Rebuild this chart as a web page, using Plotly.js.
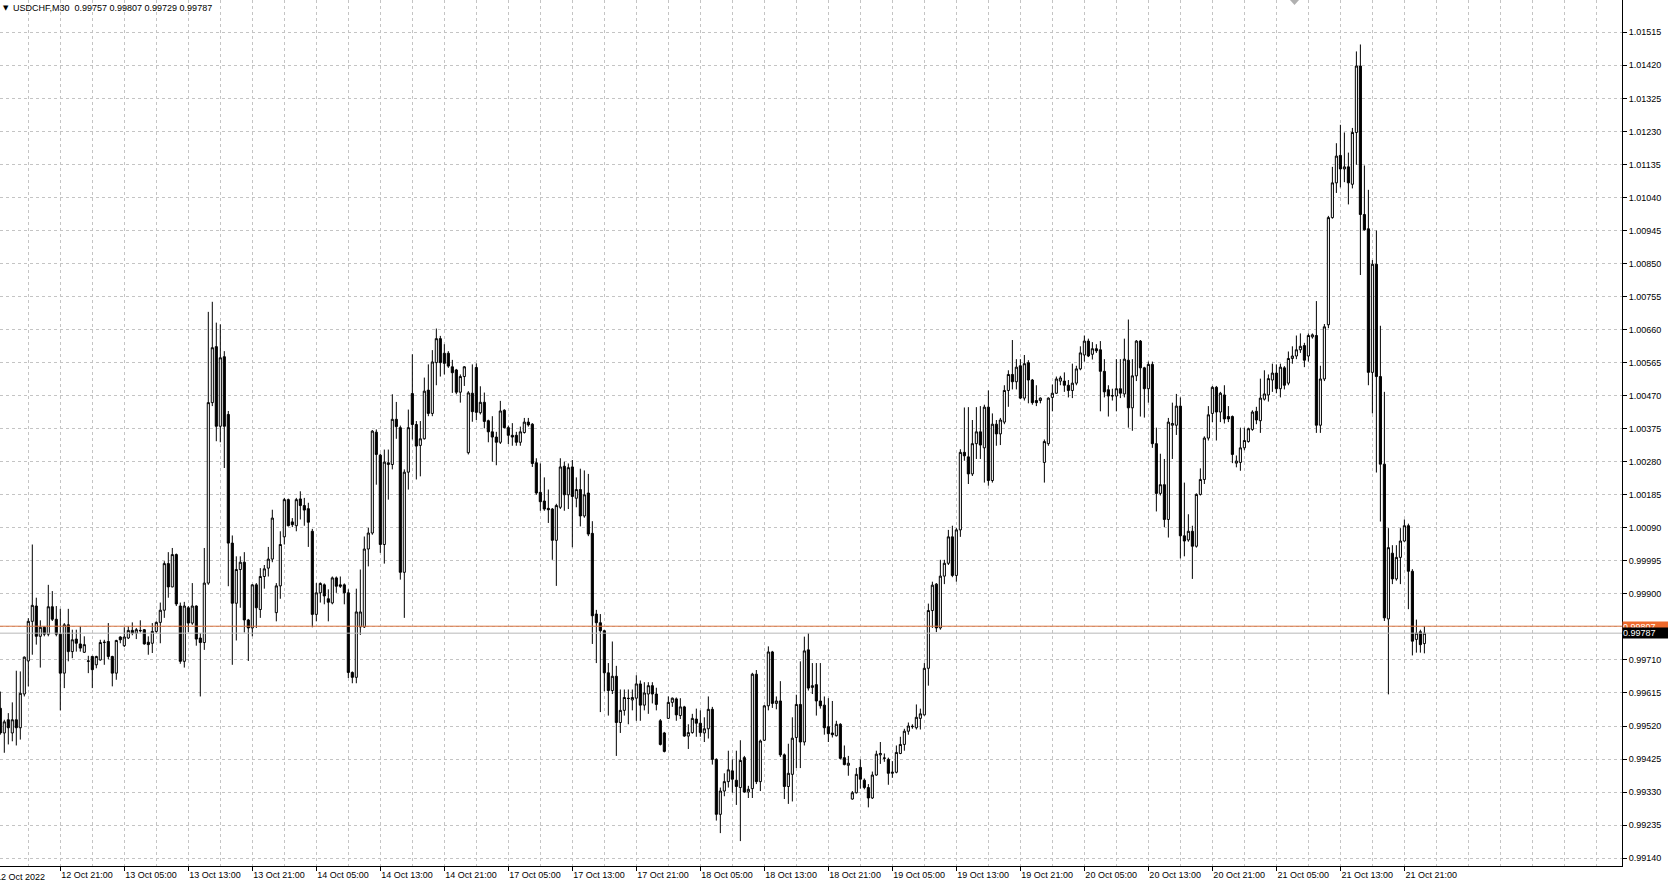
<!DOCTYPE html>
<html>
<head>
<meta charset="utf-8">
<script src="https://cdn.plot.ly/plotly-3.0.1.min.js"></script>
<style>
  html, body { margin: 0; padding: 0; background: #ffffff; overflow: hidden; }
  #chart { width: 1668px; height: 886px; }
</style>
</head>
<body>
<div id="chart"></div>
<script>
// ---------------- data ----------------
const symbol = "USDCHF";
const timeframe = "M30";
const askPrice = 0.99807;
const bidPrice = 0.99787;
const firstBar = -15;          // bar index of the first visible candle (0 = 12 Oct 21:00)
const barsPerLabel = 16;       // 8 hours of M30 bars between time labels

const timeLabels = ["12 Oct 2022","12 Oct 21:00","13 Oct 05:00","13 Oct 13:00","13 Oct 21:00","14 Oct 05:00","14 Oct 13:00","14 Oct 21:00","17 Oct 05:00","17 Oct 13:00","17 Oct 21:00","18 Oct 05:00","18 Oct 13:00","18 Oct 21:00","19 Oct 05:00","19 Oct 13:00","19 Oct 21:00","20 Oct 05:00","20 Oct 13:00","20 Oct 21:00","21 Oct 05:00","21 Oct 13:00","21 Oct 21:00"];

const priceTicks = ["0.99140","0.99235","0.99330","0.99425","0.99520","0.99615","0.99710","0.99805","0.99900","0.99995","1.00090","1.00185","1.00280","1.00375","1.00470","1.00565","1.00660","1.00755","1.00850","1.00945","1.01040","1.01135","1.01230","1.01325","1.01420","1.01515"];

const open = [
0.99571,0.99500,0.99538,0.99500,0.99538,0.99515,0.99612,0.99707,0.99821,0.99865,0.99778,0.99804,0.99784,0.99863,0.99827,
0.99784,0.99672,0.99811,0.99734,0.99770,0.99756,0.99732,0.99706,0.99720,0.99696,
0.99710,0.99760,0.99763,0.99720,0.99672,0.99776,0.99751,0.99773,0.99795,0.99787,
0.99795,0.99797,0.99761,0.99758,0.99792,0.99818,0.99853,0.99987,0.99920,1.00013,
0.99865,0.99706,0.99860,0.99816,0.99865,0.99773,0.99760,0.99931,1.00450,1.00611,
1.00382,1.00582,1.00416,1.00046,0.99873,0.99970,0.99991,0.99825,0.99802,0.99926,
0.99855,0.99950,0.99974,1.00000,0.99846,0.99923,1.00064,1.00171,1.00107,1.00096,
1.00173,1.00154,1.00145,1.00080,0.99841,0.99903,0.99926,0.99886,0.99874,0.99946,
0.99926,0.99926,0.99903,0.99674,0.99660,0.99805,0.99805,1.00029,1.00075,1.00365,
1.00299,1.00042,1.00272,1.00272,1.00402,1.00378,0.99962,1.00250,1.00476,1.00387,
1.00327,1.00346,1.00486,1.00419,1.00565,1.00634,1.00592,1.00592,1.00553,1.00544,
1.00480,1.00525,1.00306,1.00477,1.00551,1.00421,1.00451,1.00398,1.00366,1.00351,
1.00336,1.00428,1.00378,1.00356,1.00356,1.00336,1.00364,1.00394,1.00388,1.00277,
1.00192,1.00167,1.00146,1.00144,1.00054,1.00149,1.00267,1.00185,1.00265,1.00175,
1.00200,1.00124,1.00190,1.00074,0.99842,0.99817,0.99794,0.99673,0.99622,0.99663,
0.99530,0.99565,0.99600,0.99595,0.99600,0.99641,0.99580,0.99612,0.99636,0.99612,
0.99535,0.99500,0.99542,0.99588,0.99598,0.99550,0.99575,0.99491,0.99501,0.99540,
0.99528,0.99500,0.99512,0.99568,0.99424,0.99266,0.99333,0.99360,0.99391,0.99364,
0.99343,0.99429,0.99330,0.99340,0.99669,0.99360,0.99479,0.99578,0.99733,0.99585,
0.99592,0.99437,0.99346,0.99381,0.99487,0.99582,0.99474,0.99739,0.99631,0.99639,
0.99592,0.99580,0.99518,0.99500,0.99492,0.99525,0.99429,0.99407,0.99310,0.99328,
0.99401,0.99364,0.99343,0.99313,0.99379,0.99437,0.99427,0.99424,0.99384,0.99387,
0.99441,0.99467,0.99505,0.99518,0.99515,0.99542,0.99552,0.99686,0.99852,0.99928,
0.99802,0.99951,0.99988,1.00064,0.99953,1.00084,1.00307,1.00294,1.00245,1.00332,
1.00366,1.00320,1.00437,1.00226,1.00388,1.00360,1.00394,1.00485,1.00531,1.00510,
1.00556,1.00463,1.00565,1.00515,1.00456,1.00456,1.00278,1.00332,1.00465,1.00477,
1.00512,1.00512,1.00500,1.00485,1.00506,1.00547,1.00587,1.00627,1.00589,1.00605,
1.00602,1.00540,1.00487,1.00469,1.00469,1.00490,1.00475,1.00572,1.00435,1.00527,
1.00627,1.00550,1.00490,1.00560,1.00332,1.00189,1.00214,1.00114,1.00385,1.00385,
1.00440,1.00067,1.00055,1.00080,1.00037,1.00186,1.00229,1.00348,1.00419,1.00494,
1.00423,1.00472,1.00410,1.00410,1.00276,1.00278,1.00320,1.00338,1.00373,1.00425,
1.00398,1.00460,1.00472,1.00515,1.00535,1.00490,1.00550,1.00506,1.00577,1.00584,
1.00602,1.00614,1.00584,1.00639,1.00643,1.00385,1.00518,1.00674,1.00982,1.01082,
1.01161,1.01122,1.01128,1.01078,1.01227,1.01418,1.00991,1.00950,1.00537,1.00848,
1.00525,1.00273,0.99828,1.00017,0.99943,1.00005,1.00052,1.00096,0.99965,0.99769,
0.99791,0.99757];

const high = [
0.99619,0.99538,0.99557,0.99588,0.99679,0.99677,0.99720,0.99830,1.00042,0.99889,0.99824,0.99806,0.99926,0.99908,0.99865,
0.99857,0.99816,0.99857,0.99797,0.99797,0.99806,0.99778,0.99722,0.99722,0.99722,
0.99768,0.99768,0.99816,0.99722,0.99768,0.99778,0.99804,0.99806,0.99818,0.99802,
0.99824,0.99799,0.99778,0.99816,0.99821,0.99875,0.99994,1.00020,1.00032,1.00016,
0.99875,0.99877,0.99865,0.99931,0.99867,0.99787,1.00032,1.00711,1.00740,1.00680,
1.00675,1.00598,1.00426,1.00068,1.00008,1.00008,1.00020,0.99828,0.99928,0.99931,
0.99974,0.99983,1.00035,1.00142,0.99931,1.00080,1.00176,1.00174,1.00118,1.00176,
1.00195,1.00176,1.00162,1.00087,0.99931,0.99933,0.99930,0.99913,0.99950,0.99950,
0.99950,0.99930,0.99913,0.99677,0.99915,0.99970,1.00065,1.00090,1.00371,1.00373,
1.00303,1.00315,1.00315,1.00474,1.00452,1.00384,1.00258,1.00430,1.00589,1.00397,
1.00397,1.00522,1.00560,1.00601,1.00663,1.00642,1.00618,1.00598,1.00573,1.00547,
1.00531,1.00555,1.00483,1.00560,1.00563,1.00497,1.00479,1.00401,1.00411,1.00366,
1.00455,1.00431,1.00384,1.00391,1.00366,1.00381,1.00406,1.00406,1.00391,1.00290,
1.00275,1.00235,1.00200,1.00147,1.00159,1.00290,1.00280,1.00275,1.00285,1.00235,
1.00260,1.00255,1.00245,1.00109,0.99854,0.99842,0.99797,0.99701,0.99763,0.99693,
0.99625,0.99625,0.99625,0.99625,0.99666,0.99651,0.99646,0.99646,0.99646,0.99630,
0.99540,0.99503,0.99605,0.99602,0.99602,0.99600,0.99578,0.99525,0.99555,0.99570,
0.99565,0.99545,0.99605,0.99575,0.99427,0.99343,0.99384,0.99449,0.99424,0.99449,
0.99479,0.99434,0.99348,0.99673,0.99681,0.99481,0.99580,0.99749,0.99736,0.99605,
0.99649,0.99441,0.99469,0.99545,0.99610,0.99706,0.99777,0.99787,0.99701,0.99701,
0.99701,0.99605,0.99600,0.99592,0.99535,0.99528,0.99464,0.99434,0.99333,0.99399,
0.99424,0.99369,0.99353,0.99389,0.99449,0.99474,0.99441,0.99429,0.99419,0.99464,
0.99489,0.99512,0.99530,0.99525,0.99582,0.99570,0.99701,0.99872,0.99935,0.99931,
0.99998,0.99998,1.00084,1.00096,1.00089,1.00316,1.00436,1.00437,1.00400,1.00437,
1.00440,1.00444,1.00485,1.00419,1.00400,1.00406,1.00500,1.00543,1.00630,1.00575,
1.00575,1.00587,1.00572,1.00518,1.00500,1.00465,1.00344,1.00465,1.00502,1.00525,
1.00527,1.00537,1.00515,1.00562,1.00556,1.00612,1.00643,1.00634,1.00624,1.00618,
1.00627,1.00575,1.00500,1.00490,1.00575,1.00575,1.00634,1.00689,1.00575,1.00630,
1.00630,1.00553,1.00568,1.00568,1.00378,1.00303,1.00288,1.00406,1.00450,1.00475,
1.00465,1.00220,1.00129,1.00096,1.00189,1.00261,1.00353,1.00440,1.00498,1.00498,
1.00481,1.00500,1.00440,1.00413,1.00298,1.00378,1.00378,1.00378,1.00428,1.00438,
1.00519,1.00543,1.00531,1.00562,1.00560,1.00562,1.00555,1.00597,1.00612,1.00643,
1.00649,1.00622,1.00649,1.00649,1.00742,1.00556,1.00676,1.00987,1.01128,1.01196,
1.01249,1.01227,1.01169,1.01240,1.01460,1.01480,1.01132,1.01062,1.00860,1.00945,
1.00671,1.00481,1.00089,1.00040,1.00040,1.00089,1.00114,1.00102,0.99971,0.99826,
0.99797,0.99807];

const low = [
0.99495,0.99443,0.99467,0.99476,0.99464,0.99481,0.99605,0.99634,0.99725,0.99754,0.99688,0.99778,0.99778,0.99822,0.99778,
0.99565,0.99629,0.99706,0.99715,0.99734,0.99734,0.99730,0.99672,0.99629,0.99686,
0.99708,0.99696,0.99712,0.99634,0.99653,0.99758,0.99747,0.99770,0.99781,0.99770,
0.99789,0.99754,0.99725,0.99730,0.99787,0.99758,0.99831,0.99889,0.99919,0.99865,
0.99699,0.99688,0.99790,0.99811,0.99751,0.99605,0.99739,0.99926,1.00440,1.00339,
1.00336,1.00262,0.99922,0.99696,0.99766,0.99860,0.99789,0.99707,0.99778,0.99802,
0.99831,0.99915,0.99950,0.99991,0.99821,0.99886,1.00042,1.00094,1.00092,1.00080,
1.00114,1.00096,1.00035,0.99804,0.99821,0.99875,0.99870,0.99821,0.99870,0.99903,
0.99917,0.99870,0.99658,0.99643,0.99643,0.99782,0.99802,0.99979,1.00070,1.00214,
1.00018,0.99987,1.00171,1.00258,1.00346,0.99941,0.99831,1.00200,1.00344,1.00229,
1.00238,1.00344,1.00411,1.00411,1.00500,1.00525,1.00531,1.00550,1.00478,1.00474,
1.00450,1.00498,1.00301,1.00395,1.00400,1.00416,1.00376,1.00336,1.00280,1.00270,
1.00331,1.00376,1.00331,1.00326,1.00326,1.00326,1.00361,1.00381,1.00265,1.00185,
1.00139,1.00139,1.00104,0.99998,0.99923,1.00144,1.00139,1.00144,1.00034,1.00149,
1.00094,1.00119,1.00066,0.99756,0.99701,0.99560,0.99620,0.99550,0.99612,0.99434,
0.99500,0.99550,0.99525,0.99565,0.99535,0.99535,0.99565,0.99555,0.99585,0.99565,
0.99464,0.99444,0.99540,0.99575,0.99535,0.99540,0.99489,0.99454,0.99498,0.99489,
0.99489,0.99474,0.99484,0.99409,0.99248,0.99212,0.99318,0.99343,0.99328,0.99293,
0.99189,0.99328,0.99313,0.99313,0.99353,0.99333,0.99477,0.99565,0.99572,0.99568,
0.99431,0.99310,0.99296,0.99303,0.99399,0.99399,0.99464,0.99622,0.99612,0.99550,
0.99570,0.99495,0.99474,0.99487,0.99490,0.99424,0.99407,0.99377,0.99308,0.99326,
0.99340,0.99338,0.99286,0.99310,0.99377,0.99411,0.99417,0.99351,0.99371,0.99384,
0.99439,0.99449,0.99495,0.99512,0.99510,0.99510,0.99550,0.99636,0.99802,0.99790,
0.99797,0.99928,0.99983,0.99948,0.99935,1.00064,1.00283,1.00216,1.00239,1.00288,
1.00288,1.00220,1.00211,1.00220,1.00326,1.00328,1.00388,1.00438,1.00488,1.00488,
1.00460,1.00456,1.00448,1.00444,1.00440,1.00448,1.00220,1.00326,1.00425,1.00475,
1.00500,1.00481,1.00465,1.00463,1.00500,1.00543,1.00568,1.00581,1.00574,1.00593,
1.00425,1.00465,1.00410,1.00456,1.00425,1.00463,1.00465,1.00378,1.00369,1.00512,
1.00410,1.00407,1.00450,1.00320,1.00137,1.00183,1.00092,1.00062,1.00288,1.00357,
1.00002,1.00008,1.00050,0.99943,1.00033,1.00183,1.00216,1.00341,1.00394,1.00341,
1.00394,1.00390,1.00394,1.00276,1.00264,1.00254,1.00313,1.00335,1.00369,1.00388,
1.00363,1.00456,1.00453,1.00481,1.00477,1.00465,1.00488,1.00500,1.00562,1.00575,
1.00593,1.00552,1.00568,1.00634,1.00363,1.00363,1.00512,1.00664,1.00979,1.01053,
1.01069,1.01084,1.01020,1.01066,1.01134,1.00817,1.00945,1.00500,1.00419,1.00249,
1.00108,0.99822,0.99611,0.99928,0.99938,0.99928,1.00050,0.99856,0.99723,0.99731,
0.99731,0.99729];

const close = [
0.99500,0.99532,0.99515,0.99538,0.99515,0.99614,0.99718,0.99821,0.99867,0.99778,0.99804,0.99784,0.99863,0.99827,0.99784,
0.99672,0.99811,0.99734,0.99768,0.99758,0.99744,0.99754,0.99707,0.99682,0.99720,
0.99760,0.99761,0.99720,0.99672,0.99766,0.99768,0.99776,0.99795,0.99787,0.99797,
0.99794,0.99756,0.99754,0.99792,0.99818,0.99853,0.99987,0.99920,1.00013,0.99871,
0.99706,0.99865,0.99816,0.99865,0.99770,0.99760,0.99931,1.00450,1.00608,1.00382,
1.00579,1.00382,1.00046,0.99873,0.99970,0.99991,0.99825,0.99802,0.99926,0.99860,
0.99950,0.99972,1.00000,1.00118,0.99923,1.00042,1.00171,1.00096,1.00099,1.00171,
1.00154,1.00141,1.00106,0.99841,0.99903,0.99930,0.99894,0.99876,0.99946,0.99922,
0.99922,0.99903,0.99674,0.99660,0.99848,0.99848,1.00029,1.00075,1.00368,1.00301,
1.00042,1.00279,1.00277,1.00402,1.00381,0.99962,1.00250,1.00378,1.00387,1.00325,
1.00346,1.00483,1.00419,1.00567,1.00634,1.00565,1.00563,1.00555,1.00536,1.00480,
1.00525,1.00553,1.00478,1.00424,1.00422,1.00451,1.00396,1.00366,1.00351,1.00336,
1.00426,1.00378,1.00356,1.00351,1.00336,1.00366,1.00394,1.00386,1.00275,1.00190,
1.00165,1.00144,1.00142,1.00054,1.00154,1.00265,1.00185,1.00263,1.00180,1.00200,
1.00124,1.00185,1.00072,0.99837,0.99817,0.99794,0.99673,0.99622,0.99663,0.99530,
0.99565,0.99602,0.99599,0.99602,0.99641,0.99580,0.99615,0.99636,0.99612,0.99582,
0.99467,0.99447,0.99588,0.99600,0.99552,0.99575,0.99491,0.99501,0.99542,0.99528,
0.99501,0.99512,0.99568,0.99424,0.99266,0.99333,0.99360,0.99394,0.99367,0.99346,
0.99421,0.99330,0.99338,0.99669,0.99360,0.99477,0.99578,0.99733,0.99585,0.99592,
0.99437,0.99346,0.99384,0.99485,0.99582,0.99474,0.99736,0.99629,0.99636,0.99592,
0.99578,0.99515,0.99498,0.99495,0.99525,0.99427,0.99409,0.99413,0.99328,0.99381,
0.99367,0.99343,0.99313,0.99379,0.99439,0.99441,0.99428,0.99384,0.99387,0.99444,
0.99467,0.99505,0.99520,0.99519,0.99545,0.99555,0.99686,0.99852,0.99925,0.99802,
0.99951,0.99988,1.00064,0.99953,1.00084,1.00307,1.00297,1.00245,1.00332,1.00366,
1.00328,1.00437,1.00226,1.00388,1.00360,1.00400,1.00485,1.00531,1.00510,1.00552,
1.00463,1.00562,1.00515,1.00450,1.00450,1.00463,1.00338,1.00463,1.00477,1.00518,
1.00521,1.00500,1.00485,1.00506,1.00547,1.00593,1.00627,1.00584,1.00605,1.00599,
1.00540,1.00481,1.00469,1.00470,1.00490,1.00477,1.00575,1.00435,1.00527,1.00627,
1.00550,1.00490,1.00560,1.00332,1.00189,1.00214,1.00114,1.00394,1.00390,1.00440,
1.00067,1.00052,1.00080,1.00037,1.00186,1.00229,1.00348,1.00415,1.00494,1.00423,
1.00477,1.00403,1.00403,1.00301,1.00282,1.00320,1.00341,1.00375,1.00423,1.00400,
1.00463,1.00475,1.00519,1.00535,1.00490,1.00552,1.00500,1.00577,1.00584,1.00602,
1.00612,1.00572,1.00643,1.00645,1.00385,1.00518,1.00668,1.00982,1.01082,1.01159,
1.01122,1.01128,1.01082,1.01227,1.01418,1.00991,1.00947,1.00537,1.00848,1.00525,
1.00273,0.99831,1.00033,0.99943,1.00005,1.00052,1.00096,0.99965,0.99764,0.99787,
0.99754,0.99787];

// ---------------- chart ----------------
const barIdx = open.map((_, i) => firstBar + i);
const labelBars = timeLabels.map((_, i) => (i - 1) * barsPerLabel);
const xRange = [-15.075, 390.4];
const yRange = [0.991174, 1.016079];

const inRange = labelBars.map(b => b >= xRange[0] && b <= xRange[1]);
const tickVals = labelBars.filter((b, i) => inRange[i]);
const tickText = timeLabels.filter((t, i) => inRange[i]);

const FONT = "'Liberation Sans', Arial, sans-serif";
const GRID = "#c4c4c4";

const last = open.length - 1;
const header = symbol + "," + timeframe + "  " +
  [open[last], high[last], low[last], close[last]].map(v => v.toFixed(5)).join(" ");

const trace = {
  type: "candlestick",
  x: barIdx, open: open, high: high, low: low, close: close,
  increasing: { line: { color: "#000000", width: 1 }, fillcolor: "#ffffff" },
  decreasing: { line: { color: "#000000", width: 1 }, fillcolor: "#000000" },
  whiskerwidth: 0,
  hoverinfo: "skip",
  showlegend: false
};

const annotations = [
  { xref: "paper", yref: "paper", x: 0.0008, y: 1 - 7.5 / 866, xanchor: "left", yanchor: "middle",
    text: "\u25BC", showarrow: false, font: { family: "'DejaVu Sans', sans-serif", size: 7, color: "#000" } },
  { xref: "paper", yref: "paper", x: 11 / 1622, y: 1 - 7.5 / 866, xanchor: "left", yanchor: "middle",
    text: header, showarrow: false, font: { family: FONT, size: 9, color: "#000" } },
  // first (cut-off) time label
  { xref: "paper", yref: "paper",
    x: (labelBars[0] - xRange[0]) / (xRange[1] - xRange[0]), y: 0,
    xanchor: "left", yanchor: "top", yshift: -4, xshift: -2.5,
    text: timeLabels[0], showarrow: false, font: { family: FONT, size: 9, color: "#000" } },
  // ask price box
  { xref: "paper", yref: "y", x: 1, y: askPrice, xanchor: "left", yanchor: "middle",
    text: askPrice.toFixed(5), showarrow: false, bgcolor: "#ee6a2c", borderpad: 0, width: 46, height: 9,
    align: "left", font: { family: FONT, size: 9, color: "#ffffff" } },
  // bid price box
  { xref: "paper", yref: "y", x: 1, y: bidPrice, xanchor: "left", yanchor: "middle",
    text: bidPrice.toFixed(5), showarrow: false, bgcolor: "#000000", borderpad: 0, width: 46, height: 10,
    align: "left", font: { family: FONT, size: 9, color: "#ffffff" } }
];

const shapes = [
  { type: "line", xref: "paper", yref: "y", x0: 0, x1: 1, y0: bidPrice, y1: bidPrice,
    line: { color: "#b8b8b8", width: 1 } },
  { type: "line", xref: "paper", yref: "y", x0: 0, x1: 1, y0: askPrice, y1: askPrice,
    line: { color: "#d9733f", width: 1 } },
  // chart-shift marker
  { type: "path", xref: "paper", yref: "paper",
    path: "M " + (1290 / 1622) + " 1 L " + (1299 / 1622) + " 1 L " + (1294.5 / 1622) + " " + (1 - 5 / 866) + " Z",
    fillcolor: "#b0b0b0", line: { width: 0 } }
];

const layout = {
  width: 1668, height: 886,
  margin: { l: 0, r: 46, t: 0, b: 20, pad: 0 },
  paper_bgcolor: "#ffffff", plot_bgcolor: "#ffffff",
  font: { family: FONT, size: 9, color: "#000000" },
  boxgap: 0.25,
  showlegend: false,
  xaxis: {
    type: "linear", range: xRange, fixedrange: true,
    rangeslider: { visible: false },
    tickmode: "array", tickvals: tickVals, ticktext: tickText,
    ticks: "outside", ticklen: 4, tickcolor: "#000", tickwidth: 1,
    ticklabelposition: "outside right",
    tickfont: { family: FONT, size: 9, color: "#000" },
    showgrid: true, gridcolor: GRID, griddash: "3px,3px", gridwidth: 1,
    minor: { tickmode: "linear", tick0: 0, dtick: barsPerLabel / 2, showgrid: true,
             gridcolor: GRID, griddash: "3px,3px", gridwidth: 1, ticks: "" },
    showline: true, linecolor: "#000", linewidth: 1, mirror: true,
    zeroline: false
  },
  yaxis: {
    side: "right", range: yRange, fixedrange: true,
    tickmode: "array", tickvals: priceTicks.map(Number), ticktext: priceTicks,
    ticks: "outside", ticklen: 4, tickcolor: "#000", tickwidth: 1,
    tickfont: { family: FONT, size: 9, color: "#000" },
    showgrid: true, gridcolor: GRID, griddash: "3px,3px", gridwidth: 1,
    showline: true, linecolor: "#000", linewidth: 1,
    zeroline: false
  },
  annotations: annotations,
  shapes: shapes
};

Plotly.newPlot("chart", [trace], layout, { displayModeBar: false, staticPlot: true });
</script>
</body>
</html>
